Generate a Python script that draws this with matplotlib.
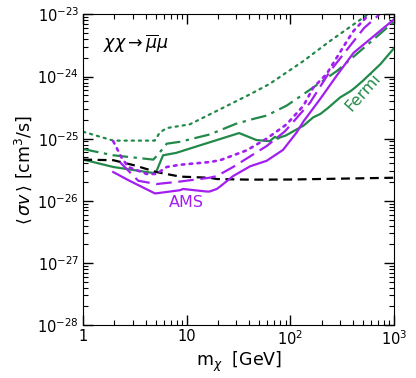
"""Annihilation cross-section limits, chi chi -> mu mu channel."""

import matplotlib
matplotlib.use("Agg")
import matplotlib.pyplot as plt
from matplotlib.ticker import FixedLocator, FixedFormatter, LogLocator, NullFormatter

GREEN = "#23894a"
PURPLE = "#a21ff0"

# Fermi (green) curves: mass [GeV], <sigma v> [cm^3/s]
fermi_dot_m = [1, 1.95, 4.9, 5.5, 6.4, 10.7, 19.5, 41, 63, 134, 240, 560]
fermi_dot_sv = [1.29e-25, 9.3e-26, 9.3e-26, 1.26e-25, 1.48e-25, 1.70e-25, 2.8e-25,
                5.2e-25, 7.6e-25, 1.78e-24, 3.7e-24, 1.0e-23]

fermi_dd_m = [1, 1.95, 4.75, 5.3, 6.4, 8.6, 16.7, 30, 45, 59, 92, 134, 282, 513, 1000]
fermi_dd_sv = [6.8e-26, 5.4e-26, 4.6e-26, 5.6e-26, 8.3e-26, 8.9e-26, 1.17e-25, 1.74e-25,
               2.1e-25, 2.35e-25, 3.4e-25, 5.2e-25, 1.23e-24, 2.9e-24, 7.6e-24]

fermi_sol_m = [1, 1.95, 4.75, 5.1, 5.9, 7.9, 13.4, 32, 47, 63, 71, 76, 80, 90, 115,
               134, 166, 195, 230, 302, 380, 420, 500, 740, 1000]
fermi_sol_sv = [4.6e-26, 3.5e-26, 2.8e-26, 3.0e-26, 5.4e-26, 5.9e-26, 7.8e-26, 1.23e-25,
                9.5e-26, 9.1e-26, 1.07e-25, 1.0e-25, 1.05e-25, 1.12e-25, 1.41e-25,
                1.62e-25, 2.2e-25, 2.5e-25, 3.1e-25, 4.6e-25, 5.8e-25, 6.6e-25,
                8.5e-25, 1.58e-24, 2.85e-24]

# thermal relic line
relic_m = [1, 1.95, 3.16, 5.1, 8.6, 16.6, 19.5, 40, 100, 1000]
relic_sv = [4.6e-26, 4.5e-26, 3.7e-26, 2.9e-26, 2.45e-26, 2.35e-26, 2.24e-26, 2.19e-26,
            2.2e-26, 2.35e-26]

# AMS (purple) curves
ams_sol_m = [1.95, 2.8, 4.9, 5.1, 8.6, 9.2, 15.5, 16.6, 19.5, 21, 28, 41, 59, 85, 115,
             134, 195, 282, 407, 1000]
ams_sol_sv = [2.9e-26, 2.1e-26, 1.32e-26, 1.32e-26, 1.48e-26, 1.55e-26, 1.41e-26, 1.41e-26,
              1.55e-26, 1.7e-26, 2.5e-26, 3.6e-26, 4.4e-26, 6.6e-26, 1.26e-25, 1.9e-25,
              4.4e-25, 1.05e-24, 2.4e-24, 8.3e-24]

ams_dash_m = [2.26, 3.4, 5.1, 8.6, 16.6, 19.5, 28, 59, 89, 155, 240, 513, 725]
ams_dash_sv = [4.2e-26, 2.1e-26, 1.86e-26, 2.04e-26, 2.35e-26, 2.5e-26, 3.5e-26, 7.6e-26,
               1.32e-25, 3.8e-25, 1.2e-24, 6.0e-24, 1.0e-23]

ams_dot_m = [1.95, 2.34, 2.72, 4.1, 5.1, 6.4, 8.6, 16.6, 21, 38, 59, 92, 134, 166, 224,
             351, 407, 575]
ams_dot_sv = [9.1e-26, 5.0e-26, 3.5e-26, 2.7e-26, 2.7e-26, 3.5e-26, 3.8e-26, 4.2e-26,
              4.5e-26, 6.5e-26, 1.0e-25, 1.7e-25, 3.4e-25, 6.6e-25, 1.1e-24, 3.7e-24,
              5.4e-24, 1.0e-23]

xticks = [1, 10, 100, 1000]
xtick_labels = ["1", "10", "$10^2$", "$10^3$"]
yticks = [1e-28, 1e-27, 1e-26, 1e-25, 1e-24, 1e-23]
ytick_labels = ["$10^{-28}$", "$10^{-27}$", "$10^{-26}$", "$10^{-25}$", "$10^{-24}$",
                "$10^{-23}$"]

fig = plt.figure(figsize=(4.16, 3.78), dpi=100)
ax = fig.add_axes([0.2, 0.14, 0.747, 0.822])

lw = 1.6
ax.plot(fermi_dot_m, fermi_dot_sv, color=GREEN, lw=lw, linestyle=(0, (1, 2.2)),
        dash_capstyle="round")
ax.plot(fermi_dd_m, fermi_dd_sv, color=GREEN, lw=lw, linestyle=(0, (7, 2.5, 1.5, 2.5)))
ax.plot(fermi_sol_m, fermi_sol_sv, color=GREEN, lw=lw)
ax.plot(relic_m, relic_sv, color="black", lw=lw, linestyle=(0, (4, 2.5)))
ax.plot(ams_dot_m, ams_dot_sv, color=PURPLE, lw=lw + 0.3, linestyle=(0, (1, 2)),
        dash_capstyle="round")
ax.plot(ams_dash_m, ams_dash_sv, color=PURPLE, lw=lw, linestyle=(0, (7, 3)))
ax.plot(ams_sol_m, ams_sol_sv, color=PURPLE, lw=lw)

ax.set_xscale("log")
ax.set_yscale("log")
ax.set_xlim(1, 1000)
ax.set_ylim(1e-28, 1e-23)

ax.xaxis.set_major_locator(FixedLocator(xticks))
ax.xaxis.set_major_formatter(FixedFormatter(xtick_labels))
ax.xaxis.set_minor_locator(LogLocator(base=10, subs=range(2, 10)))
ax.xaxis.set_minor_formatter(NullFormatter())
ax.yaxis.set_major_locator(FixedLocator(yticks))
ax.yaxis.set_major_formatter(FixedFormatter(ytick_labels))
ax.yaxis.set_minor_locator(LogLocator(base=10, subs=range(2, 10), numticks=20))
ax.yaxis.set_minor_formatter(NullFormatter())

ax.tick_params(which="both", direction="in", top=True, right=True, labelsize=10.5)
ax.tick_params(which="major", length=7, width=1, pad=3)
ax.tick_params(which="minor", length=3.5, width=0.8)

ax.set_xlabel(r"m$_\chi$  [GeV]", fontsize=12.5, labelpad=1)
ax.set_ylabel(r"$\langle\,\sigma v\,\rangle$ [cm$^3$/s]", fontsize=12.5, labelpad=2)

ax.text(0.065, 0.905, r"$\chi\chi\rightarrow\overline{\mu}\mu$", transform=ax.transAxes,
        fontsize=12.5, va="center", ha="left")
ax.text(10.0, 9.3e-27, "AMS", color=PURPLE, fontsize=11.5, ha="center", va="center")
ax.text(500, 5.5e-25, "Fermi", color=GREEN, fontsize=11.5, ha="center", va="center",
        rotation=48)

fig.savefig("out.png", dpi=100)
